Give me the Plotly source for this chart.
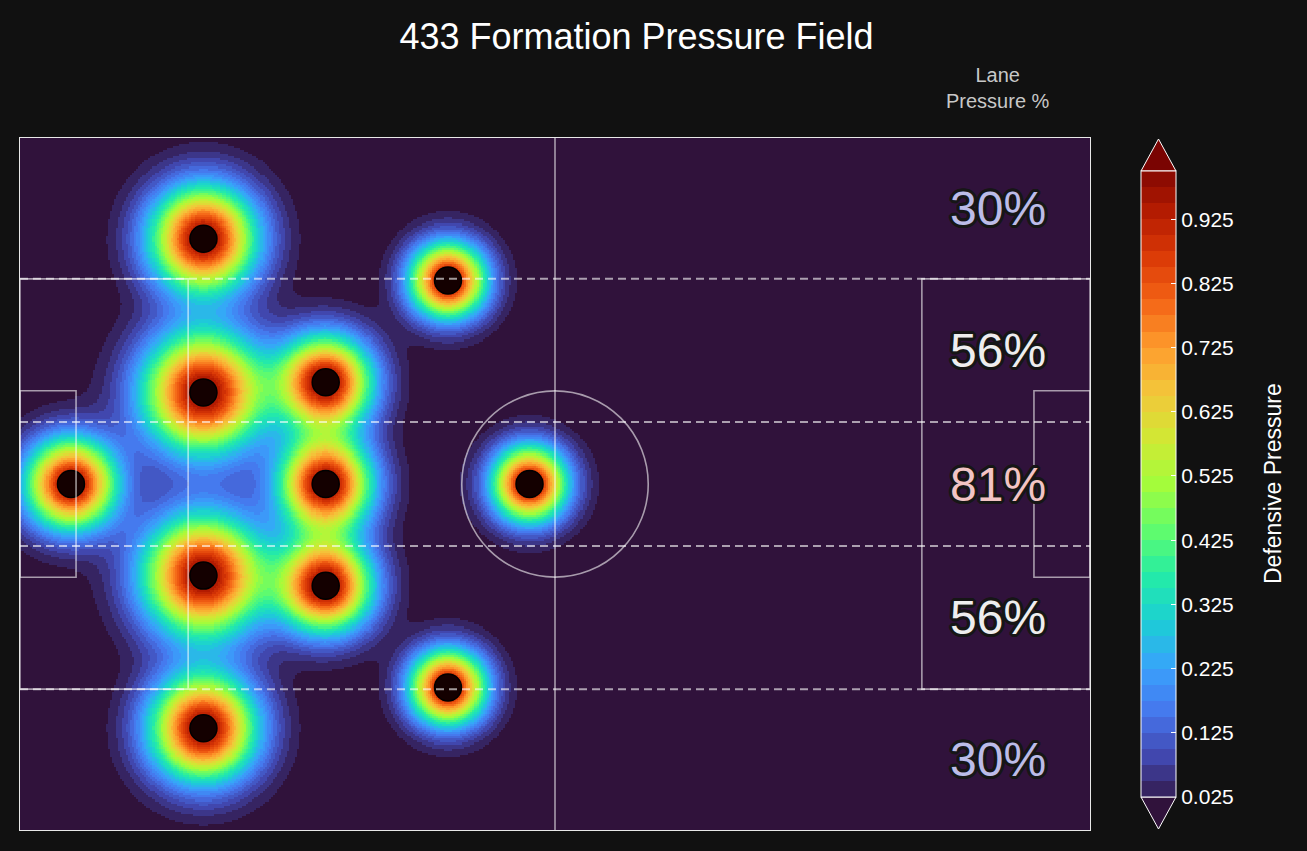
import numpy as np
import plotly.graph_objects as go
from plotly.colors import sample_colorscale

# pitch 105 x 68, players of the 4-3-3 (x, y in metres)
player_x = [5.0, 18.0, 18.0, 18.0, 18.0, 30.0, 30.0, 30.0, 42.0, 42.0, 50.0]
player_y = [34.0, 58.1, 43.0, 25.0, 10.0, 44.0, 34.0, 24.0, 54.0, 14.0, 34.0]
player_role = ["GK", "FB", "CB", "CB", "FB", "M", "M", "M", "W", "W", "ST"]
role_sigma = {"GK": 3.0, "FB": 3.5, "CB": 4.0, "M": 3.05, "W": 2.5, "ST": 2.5}

lane_edges = [0.0, 13.84, 27.9, 40.1, 54.16, 68.0]
lane_pct = [30, 56, 81, 56, 30]
lane_colors = ["#bcbce8", "#eeeeee", "#f2c4c4", "#eeeeee", "#bcbce8"]

levels = np.round(np.arange(0.025, 1.0001, 0.025), 3)
cb_ticks = [0.025, 0.125, 0.225, 0.325, 0.425, 0.525, 0.625, 0.725, 0.825, 0.925]

# pressure field: sum of gaussians
gx = np.arange(0.1, 105, 0.2)
gy = np.arange(0.1, 68, 0.2)
X, Y = np.meshgrid(gx, gy)
field = np.zeros_like(X)
for px_, py_, role in zip(player_x, player_y, player_role):
    s = role_sigma[role]
    field += np.exp(-((X - px_) ** 2 + (Y - py_) ** 2) / (2 * s ** 2))
field = np.minimum(field, 1.0)
z = np.round(field, 4).astype(object)
z[field < levels[0]] = None
z = z.tolist()

# stepped turbo scale like contourf with extend='both'
nb = len(levels) - 1
band_cols = sample_colorscale("Turbo", [(i + 1) / (nb + 1) for i in range(nb)])
cs = []
for i, c in enumerate(band_cols):
    cs.append([i / nb, c])
    cs.append([(i + 1) / nb, c])
under_col = sample_colorscale("Turbo", [0.0])[0]
over_col = sample_colorscale("Turbo", [1.0])[0]

W, H = 1307, 851
ML, MR, MT, MB = 20, 217, 138, 21
pw, ph = W - ML - MR, H - MT - MB
cb_left, cb_thick, cb_top, cb_bot = 1141, 35, 171, 797

def paper_x(p):
    return (p - ML) / pw

def paper_y(p):
    return (H - MB - p) / ph

fig = go.Figure()
fig.add_trace(go.Heatmap(
    x=gx, y=gy, z=z, colorscale=cs, zmin=levels[0], zmax=levels[-1],
    hoverinfo="skip", zsmooth=False,
    colorbar=dict(
        x=paper_x(cb_left), xanchor="left", xpad=0, ypad=0,
        y=paper_y((cb_top + cb_bot) / 2), yanchor="middle",
        lenmode="pixels", len=cb_bot - cb_top, thickness=cb_thick,
        outlinecolor="white", outlinewidth=1,
        tickvals=cb_ticks, tickformat=".3f", tickprefix="\u00a0", ticks="inside", ticklen=5,
        tickcolor="white", tickfont=dict(size=21, color="white"),
    ),
))

fig.add_trace(go.Scatter(
    x=player_x, y=player_y, mode="markers", hoverinfo="skip",
    marker=dict(size=27, color="#140000", line=dict(color="#000000", width=1.5)),
    showlegend=False,
))

line = dict(color="rgba(255,255,255,0.58)", width=1.6)
shapes = [
    dict(type="line", x0=52.5, x1=52.5, y0=0, y1=68, line=line),
    dict(type="circle", x0=52.5 - 9.15, x1=52.5 + 9.15, y0=34 - 9.15, y1=34 + 9.15, line=line),
    dict(type="rect", x0=0, x1=16.5, y0=13.84, y1=54.16, line=line),
    dict(type="rect", x0=88.5, x1=105, y0=13.84, y1=54.16, line=line),
    dict(type="rect", x0=0, x1=5.5, y0=24.84, y1=43.16, line=line),
    dict(type="rect", x0=99.5, x1=105, y0=24.84, y1=43.16, line=line),
]
for e in lane_edges[1:-1]:
    shapes.append(dict(type="line", x0=0, x1=105, y0=e, y1=e,
                       line=dict(color="rgba(255,255,255,0.6)", width=2, dash="8px,5px")))
for s in shapes:
    s.update(xref="x", yref="y", layer="above")

# colorbar extension triangles
cx0, cx1 = paper_x(cb_left), paper_x(cb_left + cb_thick)
cxm = (cx0 + cx1) / 2
yt, yta = paper_y(cb_top), paper_y(cb_top - 32)
yb, yba = paper_y(cb_bot), paper_y(cb_bot + 32)
shapes.append(dict(type="path", xref="paper", yref="paper",
                   path=f"M {cx0} {yt} L {cxm} {yta} L {cx1} {yt} Z",
                   fillcolor=over_col, line=dict(color="white", width=1)))
shapes.append(dict(type="path", xref="paper", yref="paper",
                   path=f"M {cx0} {yb} L {cxm} {yba} L {cx1} {yb} Z",
                   fillcolor=under_col, line=dict(color="white", width=1)))

# dark outline round the lane numbers
o = "#161616"
offs = [(-3, 0), (3, 0), (0, -3), (0, 3), (-2, -2), (2, -2), (-2, 2), (2, 2),
        (-3, -1), (3, 1), (-1, 3), (1, -3), (-3, 1), (3, -1), (1, 3), (-1, -3)]
stroke = ", ".join(f"{dx}px {dy}px 0 {o}" for dx, dy in offs)
annotations = []
for i, pct in enumerate(lane_pct):
    yc = (lane_edges[i] + lane_edges[i + 1]) / 2
    annotations.append(dict(x=96, y=yc, xref="x", yref="y", text=f"{pct}%", showarrow=False,
                            font=dict(size=48, color=lane_colors[i], shadow=stroke)))
annotations.append(dict(x=96, y=paper_y(88), xref="x", yref="paper", yanchor="middle",
                        text="Lane<br>Pressure %", showarrow=False,
                        font=dict(size=20, color="#c8c8c8")))
annotations.append(dict(x=paper_x(1273), y=paper_y(484), xref="paper", yref="paper",
                        xanchor="center", yanchor="middle",
                        text="Defensive Pressure", textangle=-90, showarrow=False,
                        font=dict(size=23, color="white")))

fig.update_layout(
    width=W, height=H, margin=dict(l=ML, r=MR, t=MT, b=MB),
    paper_bgcolor="#111111", plot_bgcolor=under_col,
    font=dict(family="Liberation Sans, Arial, sans-serif", color="white"),
    title=dict(text="433 Formation Pressure Field", x=636.5 / W, xanchor="center",
               y=1 - 36 / H, yanchor="middle", font=dict(size=36, color="white")),
    shapes=shapes, annotations=annotations, showlegend=False,
)
fig.update_xaxes(range=[0, 105], showgrid=False, zeroline=False, showticklabels=False,
                 ticks="", showline=True, mirror=True, linecolor="#e8e8e8", linewidth=1)
fig.update_yaxes(range=[0, 68], showgrid=False, zeroline=False, showticklabels=False,
                 ticks="", showline=True, mirror=True, linecolor="#e8e8e8", linewidth=1)

fig.write_html("out.html", config={"displayModeBar": False},
               post_script="document.body.style.margin='0';"
               "document.body.style.background='#111111';")
